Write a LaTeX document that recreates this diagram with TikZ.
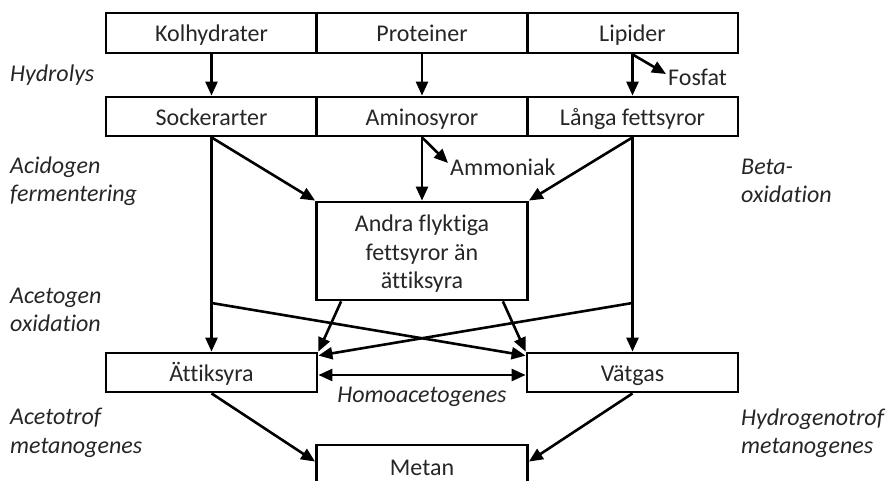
\documentclass[tikz,border=0pt]{standalone}
\usepackage{fontspec}
\setmainfont{Carlito}[Ligatures={NoCommon}]
\usetikzlibrary{arrows.meta,calc}
\begin{document}
\begin{tikzpicture}[x=1pt,y=-1pt,
  every node/.style={font=\fontsize{24}{28.5}\selectfont, text=black!85, inner sep=0pt},
  box/.style={draw=black, line width=2.8pt, minimum width=211pt, minimum height=40pt, text height=20pt, text depth=2pt},
  lbl/.style={font=\fontsize{24}{28.5}\selectfont\itshape, align=left, anchor=west},
  arr/.style={line width=2.6pt, -{Triangle[length=14pt,width=12pt]}},
  darr/.style={line width=2.6pt, {Triangle[length=14pt,width=12pt]}-{Triangle[length=14pt,width=12pt]}}
]
\useasboundingbox (0,0) rectangle (886,481);
\begin{scope}
\clip (0,0) rectangle (886,481);
% top row
\node[box] (kol) at (211.5,33) {Kolhydrater};
\node[box] (pro) at (422,33) {Proteiner};
\node[box] (lip) at (632.5,33) {Lipider};
% second row
\node[box, minimum height=39pt] (sock) at (211.5,116.5) {Sockerarter};
\node[box, minimum height=39pt] (amino) at (422,116.5) {Aminosyror};
\node[box, minimum height=39pt] (lang) at (632.5,116.5) {Långa fettsyror};
% middle
\node[draw=black, line width=2.8pt, minimum width=211pt, minimum height=98pt] (andra) at (422,251) {};
\node[align=center] (andratext) at (andra.center) [yshift=-3pt] {Andra flyktiga\\fettsyror än\\ättiksyra};
% lower
\node[box, minimum height=39pt] (att) at (211.5,372.5) {Ättiksyra};
\node[box, minimum height=39pt] (vat) at (632.5,372.5) {Vätgas};
\node[box, minimum height=42pt] (metan) at (422,466) {Metan};
% side products
\node[anchor=west] (fosfat) at (668,77) {Fosfat};
\node[anchor=west] (ammoniak) at (450,167) {Ammoniak};
% labels
\node[lbl] (l1) at (10,75) {Hydrolys};
\node[lbl] (l2) at (10,181) {Acidogen\\fermentering};
\node[lbl] (l3) at (10,310) {Acetogen\\oxidation};
\node[lbl] (l4) at (10,433) {Acetotrof\\metanogenes};
\node[lbl] (l5) at (741,181) {Beta-\\oxidation};
\node[lbl] (l6) at (741,433) {Hydrogenotrof\\metanogenes};
\node[font=\fontsize{24}{28.5}\selectfont\itshape] (homo) at (422,397) {Homoacetogenes};
% coordinates
\coordinate (fos) at (666,74);
\coordinate (amm) at (448,163);
\coordinate (sx) at (211.5,303);
\coordinate (lx) at (632.5,303);
% hydrolysis
\draw[arr] (kol.south) -- (sock.north);
\draw[arr] (pro.south) -- (amino.north);
\draw[arr] (lip.south) -- (lang.north);
\draw[arr] (lip.south) -- (fos);
% fermentation
\draw[arr] (sock.south) -- (andra.north west);
\draw[arr] (amino.south) -- (andra.north);
\draw[arr] (amino.south) -- (amm);
\draw[arr] (lang.south) -- (andra.north east);
\draw[arr] (sock.south) -- (att.north);
\draw[arr] (lang.south) -- (vat.north);
% acetogenic
\draw[arr] ([xshift=26pt]andra.south west) -- (att.north east);
\draw[arr] ([xshift=-26pt]andra.south east) -- (vat.north west);
\draw[arr] (sx) -- ([yshift=-4pt]vat.north west);
\draw[arr] (lx) -- ([yshift=-4pt]att.north east);
\draw[darr] ([yshift=-2.5pt]att.east) -- ([yshift=-2.5pt]vat.west);
% methanogenesis
\draw[arr] (att.south) -- ([yshift=-18pt]metan.north west);
\draw[arr] (vat.south) -- ([yshift=-18pt]metan.north east);
\end{scope}
\end{tikzpicture}
\end{document}
